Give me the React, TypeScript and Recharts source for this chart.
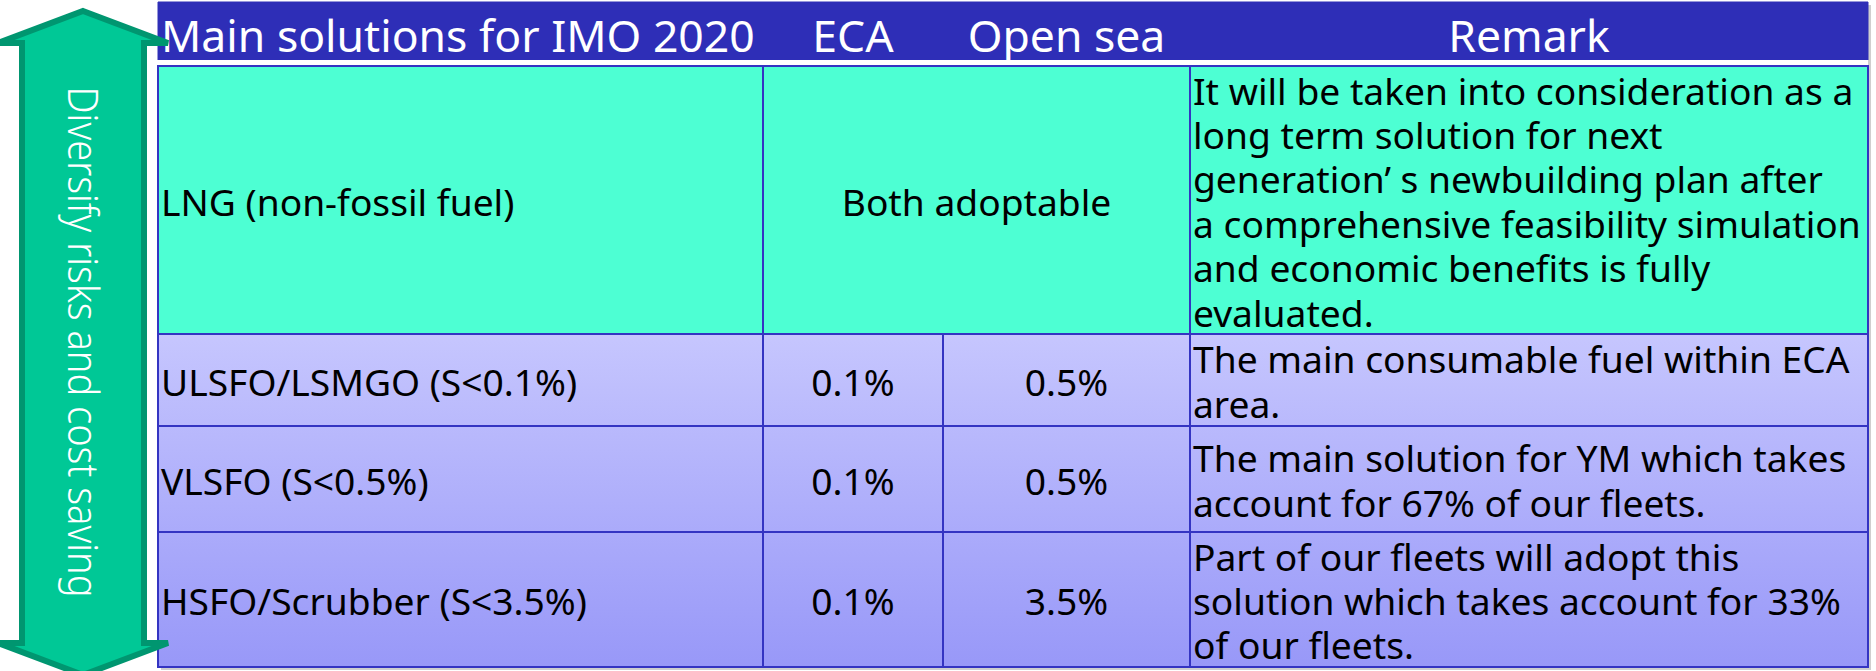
import { ComposedChart, XAxis, YAxis, ReferenceArea } from 'recharts';

// table contents
const HEADERS = ['Main solutions for IMO 2020', 'ECA', 'Open sea', 'Remark'];
const SOLUTIONS = [
  'LNG (non-fossil fuel)',
  'ULSFO/LSMGO (S<0.1%)',
  'VLSFO (S<0.5%)',
  'HSFO/Scrubber (S<3.5%)',
];
const ECA_LIMITS = ['Both adoptable', '0.1%', '0.1%', '0.1%'];
const OPEN_SEA_LIMITS = ['Both adoptable', '0.5%', '0.5%', '3.5%'];
const REMARKS = [
  [
    'It will be taken into consideration as a',
    'long term solution for next',
    'generation’ s newbuilding plan after',
    'a comprehensive feasibility simulation',
    'and economic benefits is fully',
    'evaluated.',
  ],
  ['The main consumable fuel within ECA', 'area.'],
  ['The main solution for YM which takes', 'account for 67% of our fleets.'],
  ['Part of our fleets will adopt this', 'solution which takes account for 33%', 'of our fleets.'],
];
const SIDE_NOTE = 'Diversify risks and cost saving';

// layout (px units on both hidden axes)
const W = 1876;
const H = 671;
const COL_EDGES = [158, 763, 943, 1190, 1868];
const HEADER_BAND = [2, 60];
const ROW_EDGES = [66, 334, 426, 532, 667];
const ARROW_BOX = { x1: -4, x2: 170, y1: 9, y2: 677 };

const FONT = '"Noto Sans", "Open Sans", sans-serif';
const BODY_SIZE = 37.2;
const HEADER_SIZE = 44.5;
const LINE_GAP = 44.4;

const HEADER_BG = '#2e2eb7';
const TEAL = '#4dffd3';
const GRID = '#3434c2';
const ARROW_FILL = '#00c896';
const ARROW_EDGE = '#009670';

type Align = 'start' | 'middle';

interface CellTextProps {
  viewBox?: { x: number; y: number; width: number; height: number };
  lines: string[];
  align: Align;
  color: string;
  size: number;
  baseline: number;
}

function CellText({ viewBox, lines, align, color, size, baseline }: CellTextProps) {
  if (!viewBox) return null;
  const { x, y, width, height } = viewBox;
  const tx = align === 'start' ? x + 3 : x + width / 2;
  const first = y + height / 2 + baseline - ((lines.length - 1) * LINE_GAP) / 2;
  return (
    <text textAnchor={align} fontFamily={FONT} fontSize={size} fill={color}>
      {lines.map((l, i) => (
        <tspan key={i} x={tx} y={first + i * LINE_GAP}>
          {l}
        </tspan>
      ))}
    </text>
  );
}

function ArrowShape(props: any) {
  const { x, y, width, height } = props;
  const cx = x + width / 2;
  const y2 = y + height;
  const head = 34;
  const shaft = 61;
  const L = x + 2;
  const R = x + width - 2;
  const pts = [
    [cx, y + 2],
    [R, y + head],
    [cx + shaft, y + head],
    [cx + shaft, y2 - head],
    [R, y2 - head],
    [cx, y2 - 2],
    [L, y2 - head],
    [cx - shaft, y2 - head],
    [cx - shaft, y + head],
    [L, y + head],
  ]
    .map((p) => p.join(','))
    .join(' ');
  const fs = 42;
  return (
    <g>
      <polygon points={pts} fill={ARROW_FILL} stroke={ARROW_EDGE} strokeWidth={6} strokeLinejoin="miter" />
      <text
        transform={`translate(${cx - fs * 0.357} ${y + height / 2 - 1}) rotate(90)`}
        textAnchor="middle"
        fontFamily={FONT}
        fontWeight={300}
        fontSize={fs}
        textLength={511}
        lengthAdjust="spacingAndGlyphs"
        fill="#ffffff"
      >
        {SIDE_NOTE}
      </text>
    </g>
  );
}

interface Cell {
  key: string;
  x1: number;
  x2: number;
  y1: number;
  y2: number;
  lines: string[];
  align: Align;
}

const rows = SOLUTIONS.map((name, i) => ({
  name,
  eca: ECA_LIMITS[i],
  openSea: OPEN_SEA_LIMITS[i],
  remark: REMARKS[i],
}));

const cells: Cell[] = [];
rows.forEach((r, i) => {
  const y1 = ROW_EDGES[i];
  const y2 = ROW_EDGES[i + 1];
  cells.push({ key: `s${i}`, x1: COL_EDGES[0], x2: COL_EDGES[1], y1, y2, lines: [r.name], align: 'start' });
  if (r.eca === r.openSea) {
    cells.push({ key: `m${i}`, x1: COL_EDGES[1], x2: COL_EDGES[3], y1, y2, lines: [r.eca], align: 'middle' });
  } else {
    cells.push({ key: `e${i}`, x1: COL_EDGES[1], x2: COL_EDGES[2], y1, y2, lines: [r.eca], align: 'middle' });
    cells.push({ key: `o${i}`, x1: COL_EDGES[2], x2: COL_EDGES[3], y1, y2, lines: [r.openSea], align: 'middle' });
  }
  cells.push({ key: `r${i}`, x1: COL_EDGES[3], x2: COL_EDGES[4], y1, y2, lines: r.remark, align: 'start' });
});

export default function App() {
  return (
    <div style={{ position: 'absolute', left: 0, top: 0, background: '#fff' }}>
      <ComposedChart width={W} height={H} margin={{ top: 0, right: 0, bottom: 0, left: 0 }}>
        <defs>
          <linearGradient id="lowerRows" x1="0" y1="0" x2="0" y2="1">
            <stop offset="0%" stopColor="#c6c6fe" />
            <stop offset="100%" stopColor="#9898f8" />
          </linearGradient>
        </defs>
        <XAxis type="number" dataKey="x" scale="linear" hide domain={[0, W]} allowDataOverflow />
        <YAxis type="number" dataKey="y" scale="linear" hide reversed domain={[0, H]} allowDataOverflow />

        {/* soft shadow behind the table */}
        <ReferenceArea
          x1={COL_EDGES[0] + 3}
          x2={COL_EDGES[4] + 3}
          y1={HEADER_BAND[0] + 3}
          y2={ROW_EDGES[ROW_EDGES.length - 1] + 3}
          fill="#cfcfcf"
          fillOpacity={1}
          stroke="none"
          ifOverflow="visible"
        />

        {/* header band */}
        {HEADERS.map((h, i) => (
          <ReferenceArea
            key={`h${i}`}
            x1={COL_EDGES[i]}
            x2={COL_EDGES[i + 1]}
            y1={HEADER_BAND[0]}
            y2={HEADER_BAND[1]}
            fill={HEADER_BG}
            fillOpacity={1}
            stroke={HEADER_BG}
            strokeWidth={1}
            label={
              <CellText lines={[h]} align={i === 0 ? 'start' : 'middle'} color="#ffffff" size={HEADER_SIZE} baseline={21} />
            }
          />
        ))}
        <ReferenceArea
          x1={COL_EDGES[0]}
          x2={COL_EDGES[4]}
          y1={HEADER_BAND[1]}
          y2={ROW_EDGES[0]}
          fill="#ffffff"
          fillOpacity={1}
          stroke="none"
        />

        {/* row backgrounds */}
        <ReferenceArea
          x1={COL_EDGES[0]}
          x2={COL_EDGES[4]}
          y1={ROW_EDGES[0]}
          y2={ROW_EDGES[1]}
          fill={TEAL}
          fillOpacity={1}
          stroke="none"
        />
        <ReferenceArea
          x1={COL_EDGES[0]}
          x2={COL_EDGES[4]}
          y1={ROW_EDGES[1]}
          y2={ROW_EDGES[ROW_EDGES.length - 1]}
          fill="url(#lowerRows)"
          fillOpacity={1}
          stroke="none"
        />

        {/* cells with borders and text */}
        {cells.map((c) => (
          <ReferenceArea
            key={c.key}
            x1={c.x1}
            x2={c.x2}
            y1={c.y1}
            y2={c.y2}
            fill="none"
            fillOpacity={0}
            stroke={GRID}
            strokeWidth={2}
            label={<CellText lines={c.lines} align={c.align} color="#000000" size={BODY_SIZE} baseline={15.5} />}
          />
        ))}

        {/* double-headed arrow on the left */}
        <ReferenceArea
          x1={ARROW_BOX.x1}
          x2={ARROW_BOX.x2}
          y1={ARROW_BOX.y1}
          y2={ARROW_BOX.y2}
          ifOverflow="visible"
          shape={(p: any) => <ArrowShape {...p} />}
        />
      </ComposedChart>
    </div>
  );
}
